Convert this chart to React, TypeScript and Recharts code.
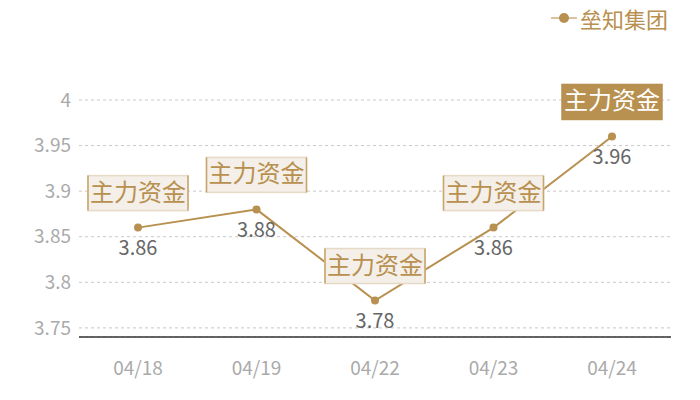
import React from "react";
import { LineChart, Line, XAxis, YAxis, CartesianGrid, LabelList } from "recharts";

const dates = ["04/18", "04/19", "04/22", "04/23", "04/24"];
const prices = [3.86, 3.88, 3.78, 3.86, 3.96];
const yTicks = [3.75, 3.8, 3.85, 3.9, 3.95, 4];
const tagText = "主力资金";
const seriesName = "垒知集团";

const data = dates.map((d, i) => ({ date: d, price: prices[i] }));

const GOLD = "#b8904f";
const FONT = '"Noto Sans CJK SC", "Noto Sans", sans-serif';

function PointLabel(props: any) {
  const { x, y, value, index } = props;
  const last = index === prices.length - 1;
  const w = 100;
  const h = 35;
  const bx = x - w / 2;
  const by = y - 17 - h;
  return (
    <g>
      <rect x={bx} y={by} width={w} height={h} fill={last ? GOLD : "#f4efe8"} stroke={last ? GOLD : "#e6d9c6"} strokeWidth={1.5} />
      {!last && (
        <>
          <line x1={bx} y1={by} x2={bx} y2={by + h} stroke="#c9a56b" strokeWidth={1.5} />
          <line x1={bx + w} y1={by} x2={bx + w} y2={by + h} stroke="#c9a56b" strokeWidth={1.5} />
        </>
      )}
      <text x={x} y={by + h / 2 + 1} textAnchor="middle" dominantBaseline="middle" fontSize={24} fill={last ? "#fff" : GOLD} fontFamily={FONT}>
        {tagText}
      </text>
      <text x={x} y={y + 22} textAnchor="middle" dominantBaseline="middle" fontSize={20} fill="#666" fontFamily={FONT}>
        {value}
      </text>
    </g>
  );
}

export default function App() {
  return (
    <div style={{ position: "absolute", left: 0, top: 0, width: 700, height: 400, background: "#fff", fontFamily: FONT }}>
      <div style={{ position: "absolute", left: 551, top: 3, display: "flex", alignItems: "center", color: GOLD, fontSize: 22, lineHeight: "30px" }}>
        <svg width={26} height={12} style={{ marginRight: 3 }}>
          <line x1={0} y1={6} x2={26} y2={6} stroke={GOLD} strokeWidth={1.5} opacity={0.7} />
          <circle cx={13} cy={6} r={5} fill={GOLD} />
        </svg>
        <span>{seriesName}</span>
      </div>
      <LineChart width={700} height={400} data={data} margin={{ top: 100, right: 29, bottom: 0, left: 0 }}>
        <CartesianGrid vertical={false} stroke="#c8c8c8" strokeDasharray="3 3" />
        <XAxis
          dataKey="date"
          height={63}
          padding={{ left: 59, right: 59 }}
          tickLine={false}
          tickSize={0}
          tickMargin={25}
          axisLine={{ stroke: "#333", strokeWidth: 1.5 }}
          tick={{ fill: "#aaa", fontSize: 19, fontFamily: FONT }}
        />
        <YAxis
          width={79}
          domain={[3.74, 4]}
          ticks={yTicks}
          axisLine={false}
          tickLine={false}
          tickSize={0}
          tickMargin={8}
          tick={{ fill: "#aaa", fontSize: 19, fontFamily: FONT }}
        />
        <Line
          dataKey="price"
          name={seriesName}
          stroke={GOLD}
          strokeWidth={2}
          dot={{ r: 4, fill: GOLD, stroke: GOLD, strokeWidth: 0 }}
          isAnimationActive={false}
        >
          <LabelList dataKey="price" content={PointLabel} />
        </Line>
      </LineChart>
    </div>
  );
}
